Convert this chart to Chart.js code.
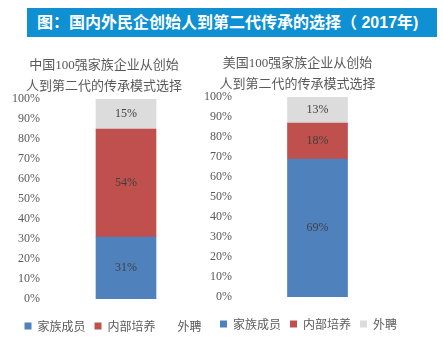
<!DOCTYPE html>
<html>
<head>
<meta charset="utf-8">
<script src="https://cdn.jsdelivr.net/npm/chart.js@4.4.1/dist/chart.umd.min.js"></script>
<style>
  body { margin: 0; width: 443px; height: 350px; background: #fff; position: relative; overflow: hidden; }
  .banner {
    position: absolute; left: 27px; top: 8px; width: 410px; height: 29px;
    background: #0e90d2; color: #fff;
    font: bold 16px 'Liberation Sans', 'Noto Sans CJK SC', sans-serif;
    line-height: 29px; padding-left: 10px; box-sizing: border-box; white-space: nowrap;
  }
  .box { position: absolute; }
</style>
</head>
<body>
<div class="banner">图：国内外民企创始人到第二代传承的选择（ 2017年)</div>
<div class="box" style="left:0px;top:40px;width:220px;height:302px;"><canvas id="cn"></canvas></div>
<div class="box" style="left:196px;top:38px;width:220px;height:302px;"><canvas id="us"></canvas></div>
<script>
const seriesNames = ['家族成员', '内部培养', '外聘'];
const seriesColors = ['#4f81bd', '#c0504d', '#dcdcdc'];
const cnValues = [31, 54, 15];
const usValues = [69, 18, 13];
const cnTitle = ['中国100强家族企业从创始', '人到第二代的传承模式选择'];
const usTitle = ['美国100强家族企业从创始', '人到第二代的传承模式选择'];
const yTicks = [0, 10, 20, 30, 40, 50, 60, 70, 80, 90, 100];

const serifCjk = "'Liberation Serif', 'Noto Sans CJK SC', serif";
const sansCjk = "'Noto Sans CJK SC', sans-serif";

// percent text in the middle of each stacked segment
const segmentLabels = {
    id: 'segmentLabels',
    afterDatasetsDraw(chart) {
        const ctx = chart.ctx;
        ctx.save();
        ctx.font = '12px ' + serifCjk;
        ctx.fillStyle = '#404040';
        ctx.textAlign = 'center';
        ctx.textBaseline = 'middle';
        chart.data.datasets.forEach((ds, i) => {
            chart.getDatasetMeta(i).data.forEach((bar, j) => {
                const p = bar.getCenterPoint();
                ctx.fillText(ds.data[j] + '%', p.x, p.y);
            });
        });
        ctx.restore();
    }
};

// nudge the legend row sideways after layout
const legendShift = {
    id: 'legendShift',
    afterLayout(chart, args, opts) {
        const lg = chart.legend;
        if (!lg) return;
        lg.left += opts.dx;
        lg.right += opts.dx;
        if (lg.adjustHitBoxes) lg.adjustHitBoxes();
    }
};

function makeChart(id, values, title, yWidth, padRight, legendDx, hideLastBox) {
    const ctx = document.getElementById(id).getContext('2d');
    return new Chart(ctx, {
        type: 'bar',
        data: {
            labels: [''],
            datasets: seriesNames.map((name, i) => ({
                label: name,
                data: [values[i]],
                backgroundColor: seriesColors[i],
                borderWidth: 0,
                barThickness: 60,
            })),
        },
        plugins: [segmentLabels, legendShift],
        options: {
            responsive: true,
            maintainAspectRatio: false,
            animation: false,
            layout: { padding: { left: 0, right: padRight, top: 0, bottom: 0 } },
            plugins: {
                tooltip: { enabled: false },
                legendShift: { dx: legendDx },
                title: {
                    display: true,
                    text: title,
                    color: '#595959',
                    font: { family: serifCjk, size: 13, weight: 'normal', lineHeight: 1.62 },
                    padding: { top: 15, bottom: 2 },
                },
                legend: {
                    position: 'bottom',
                    labels: {
                        color: '#595959',
                        font: { family: sansCjk, size: 12 },
                        boxWidth: 7,
                        boxHeight: 7,
                        padding: 9,
                        generateLabels(chart) {
                            const items = Chart.defaults.plugins.legend.labels.generateLabels(chart);
                            items.forEach(it => { it.lineWidth = 0; });
                            if (hideLastBox) {
                                items[2].fillStyle = '#ffffff';
                            }
                            return items;
                        },
                    },
                },
            },
            scales: {
                x: {
                    stacked: true,
                    display: true,
                    grid: { display: false, drawTicks: false },
                    border: { display: false },
                    ticks: { display: false },
                    afterFit(scale) {
                        scale.height = 12;
                    },
                },
                y: {
                    stacked: true,
                    min: 0,
                    max: 100,
                    afterBuildTicks(scale) {
                        scale.ticks = yTicks.map(v => ({ value: v }));
                    },
                    afterFit(scale) {
                        scale.width = yWidth;
                    },
                    grid: { display: false, drawTicks: false },
                    border: { display: false },
                    ticks: {
                        padding: 4,
                        color: '#595959',
                        font: { family: serifCjk, size: 12 },
                        callback: v => v + '%',
                    },
                },
            },
        },
    });
}

makeChart('cn', cnValues, cnTitle, 44, 12, 9, true);
makeChart('us', usValues, usTitle, 40, 17, 11, false);
</script>
</body>
</html>
